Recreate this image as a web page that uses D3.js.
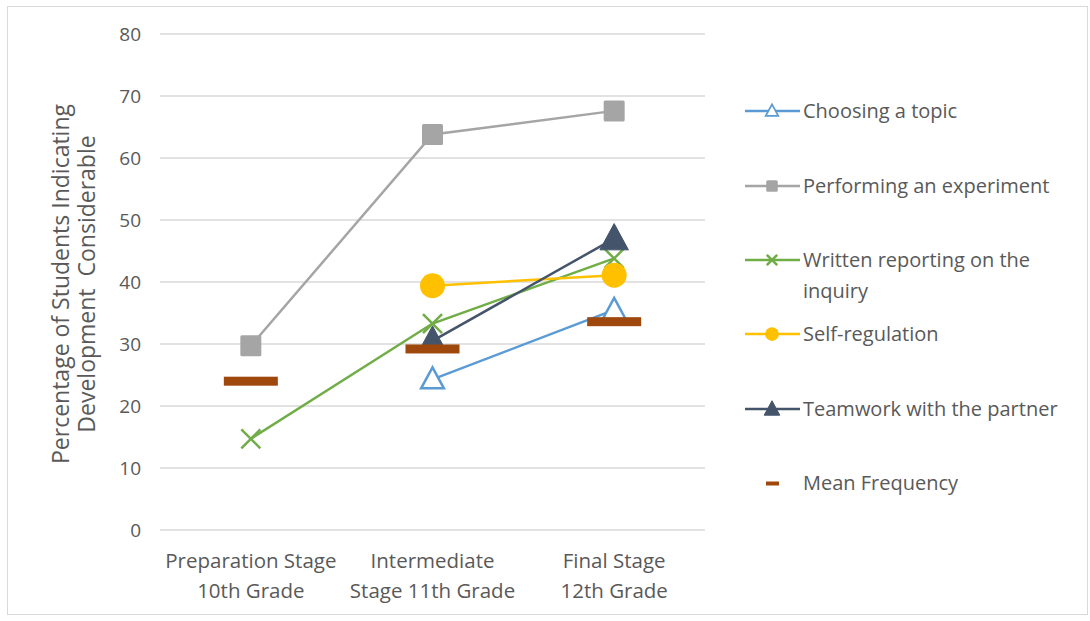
<!DOCTYPE html>
<html>
<head>
<meta charset="utf-8">
<script src="https://cdn.jsdelivr.net/npm/d3@7"></script>
<style>
  body { margin: 0; background: #fff; }
  svg text { font-family: "Open Sans", Lato, sans-serif; fill: #595959; }
</style>
</head>
<body>
<svg id="chart"></svg>
<script>
// categories on the x axis (two lines each)
const stages = ["Preparation Stage|10th Grade", "Intermediate|Stage 11th Grade", "Final Stage|12th Grade"];
const yTicks = [0, 10, 20, 30, 40, 50, 60, 70, 80];

// series values (null = no data for that stage)
const choosingTopic = [null, 24.3, 35.5];
const performingExperiment = [29.7, 63.8, 67.6];
const writtenReporting = [14.7, 33.3, 43.8];
const selfRegulation = [null, 39.4, 41.1];
const teamwork = [null, 30.5, 47.0];
const meanFrequency = [24.0, 29.2, 33.6];

const seriesNames = ["Choosing a topic", "Performing an experiment", "Written reporting on the|inquiry",
  "Self-regulation", "Teamwork with the partner", "Mean Frequency"];

const width = 1090;
const height = 621;

const svg = d3.select("#chart")
    .attr("width", width)
    .attr("height", height);

// outer frame
svg.append("rect")
    .attr("x", 7.5).attr("y", 6.5)
    .attr("width", 1080).attr("height", 608)
    .attr("fill", "none")
    .attr("stroke", "#d9d9d9");

const margin = { top: 34, left: 160, right: 705, bottom: 530 };

const xScale = d3.scaleBand()
    .domain(stages)
    .range([margin.left, margin.right]);

const yScale = d3.scaleLinear()
    .domain([0, 80])
    .range([margin.bottom, margin.top]);

// gridlines
svg.append("g").selectAll("line")
    .data(yTicks)
    .enter().append("line")
    .attr("x1", margin.left).attr("x2", margin.right)
    .attr("y1", d => yScale(d)).attr("y2", d => yScale(d))
    .attr("stroke", "#d9d9d9")
    .attr("stroke-width", 1.3);

// y axis labels
const yAxis = d3.axisLeft(yScale).tickValues(yTicks).tickSize(0).tickPadding(0);
const yg = svg.append("g")
    .attr("transform", `translate(${margin.left - 19},0)`)
    .call(yAxis);
yg.select(".domain").remove();
yg.selectAll("text")
    .attr("font-size", 19)
    .attr("font-family", "'Open Sans', sans-serif")
    .attr("fill", "#595959")
    .attr("dy", "0.35em");

// x axis labels
const xAxis = d3.axisBottom(xScale).tickSize(0).tickFormat("");
const xg = svg.append("g")
    .attr("transform", `translate(0,${margin.bottom})`)
    .call(xAxis);
xg.select(".domain").remove();
xg.selectAll(".tick").each(function(d) {
  const t = d3.select(this).append("text")
      .attr("text-anchor", "middle")
      .attr("font-size", 20.5)
      .attr("fill", "#595959");
  d.split("|").forEach((line, i) => {
    t.append("tspan").attr("x", 0).attr("y", 38 + i * 30).text(line);
  });
});

// y axis title
const yTitle = svg.append("text")
    .attr("transform", `translate(74,${(margin.top + margin.bottom) / 2 + 2}) rotate(-90)`)
    .attr("text-anchor", "middle")
    .attr("font-size", 23);
yTitle.append("tspan").attr("x", 0).attr("y", -5).text("Percentage of Students Indicating");
yTitle.append("tspan").attr("x", 0).attr("y", 21).attr("xml:space", "preserve").text("Development  Considerable");

const cx = i => xScale(stages[i]) + xScale.bandwidth() / 2;

const series = [
  { name: seriesNames[0], values: choosingTopic, color: "#5B9BD5", marker: "triOpen" },
  { name: seriesNames[1], values: performingExperiment, color: "#A5A5A5", marker: "square" },
  { name: seriesNames[2], values: writtenReporting, color: "#70AD47", marker: "x" },
  { name: seriesNames[3], values: selfRegulation, color: "#FFC000", marker: "circle" },
  { name: seriesNames[4], values: teamwork, color: "#44546A", marker: "triFilled" }
];

function drawMarker(g, type, color, x, y, scale) {
  const s = scale || 1;
  if (type === "triOpen") {
    const r = 12 * s;
    g.append("path")
      .attr("d", `M${x},${y - r}L${x + r * 0.95},${y + r * 0.75}L${x - r * 0.95},${y + r * 0.75}Z`)
      .attr("fill", "#fff").attr("stroke", color).attr("stroke-width", 2.5 * Math.max(s, 0.7));
  } else if (type === "triFilled") {
    const r = 15 * s;
    g.append("path")
      .attr("d", `M${x},${y - r}L${x + r * 0.95},${y + r * 0.75}L${x - r * 0.95},${y + r * 0.75}Z`)
      .attr("fill", color).attr("stroke", color).attr("stroke-width", 1);
  } else if (type === "square") {
    const h = 10.5 * s;
    g.append("rect")
      .attr("x", x - h).attr("y", y - h)
      .attr("width", 2 * h).attr("height", 2 * h)
      .attr("rx", 1.5)
      .attr("fill", color);
  } else if (type === "circle") {
    g.append("circle")
      .attr("cx", x).attr("cy", y).attr("r", 12.5 * s)
      .attr("fill", color);
  } else if (type === "x") {
    const h = 9.5 * s;
    g.append("path")
      .attr("d", `M${x - h},${y - h}L${x + h},${y + h}M${x - h},${y + h}L${x + h},${y - h}`)
      .attr("stroke", color).attr("stroke-width", 2.5);
  }
}

const plot = svg.append("g");

series.forEach(s => {
  const pts = s.values.map((v, i) => ({ i, v })).filter(p => p.v !== null);
  const line = d3.line()
      .x(p => cx(p.i))
      .y(p => yScale(p.v));
  plot.append("path")
      .datum(pts)
      .attr("d", line)
      .attr("fill", "none")
      .attr("stroke", s.color)
      .attr("stroke-width", 2.5);
  pts.forEach(p => drawMarker(plot, s.marker, s.color, cx(p.i), yScale(p.v)));
});

// mean frequency dashes
plot.selectAll(".mean")
    .data(meanFrequency)
    .enter().append("rect")
    .attr("class", "mean")
    .attr("x", (d, i) => cx(i) - 27)
    .attr("y", d => yScale(d) - 4.5)
    .attr("width", 54)
    .attr("height", 9)
    .attr("fill", "#9E480E");

// legend
const legendY = [111, 186, 260, 334, 409, 483];
const legend = svg.append("g");
series.forEach((s, i) => {
  const y = legendY[i];
  legend.append("line")
      .attr("x1", 745).attr("x2", 800)
      .attr("y1", y).attr("y2", y)
      .attr("stroke", s.color).attr("stroke-width", 2.5);
  drawMarker(legend, s.marker, s.color, 772, y, 0.55);
});
legend.append("rect")
    .attr("x", 766).attr("y", legendY[5] - 1.5)
    .attr("width", 13).attr("height", 4)
    .attr("fill", "#9E480E");

seriesNames.forEach((name, i) => {
  const t = legend.append("text")
      .attr("x", 803)
      .attr("font-size", 20);
  name.split("|").forEach((line, j) => {
    t.append("tspan").attr("x", 803).attr("y", legendY[i] + 7 + j * 31).text(line);
  });
});
</script>
</body>
</html>
